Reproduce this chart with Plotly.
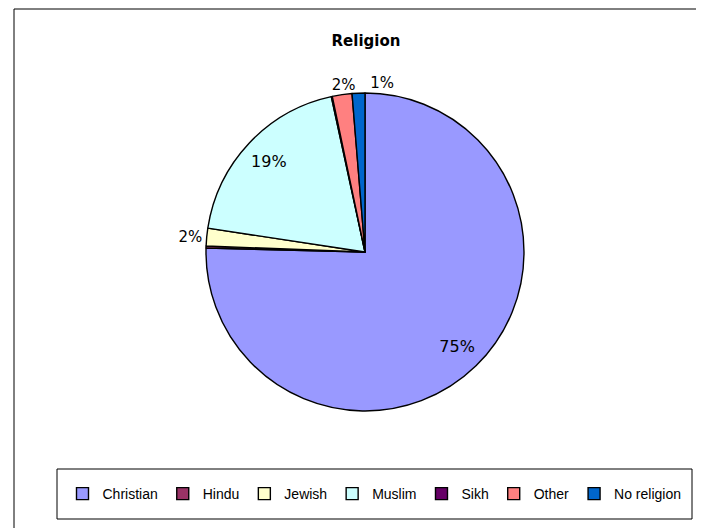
import plotly.graph_objects as go

categories = ["Christian", "Hindu", "Jewish", "Muslim", "Sikh", "Other", "No religion"]
values = [75.4, 0.2, 1.8, 19.2, 0.1, 2.0, 1.3]
inside_labels = ["75%", "", "", "19%", "", "", ""]
outside_labels = ["", "", "2%", "", "", "", ""]
other_label = ["", "", "", "", "", "2%", ""]
norel_label = ["", "", "", "", "", "", "1%"]
colors = ["#9999FF", "#993366", "#FFFFCC", "#CCFFFF", "#660066", "#FF8080", "#0066CC"]

W, H = 704, 528
OFF = 8  # page body margin offset
cx, cy, r = 365 - OFF, 252 - OFF, 159
FONT = "DejaVu Sans, Verdana, sans-serif"
LFONT = "Liberation Sans, Arial, sans-serif"


def dom(dx=0, dy=0):
    return dict(x=[(cx - r + dx) / W, (cx + r + dx) / W],
                y=[1 - (cy + r + dy) / H, 1 - (cy - r + dy) / H])


def px(x):
    return (x - OFF) / W


def py(y):
    return 1 - (y - OFF) / H


# Main pie: filled slices, legend, outside label for Jewish
fig = go.Figure(go.Pie(
    labels=categories,
    values=values,
    text=outside_labels,
    textinfo="text",
    textposition="outside",
    sort=False,
    direction="clockwise",
    rotation=0,
    marker=dict(colors=colors, line=dict(color="black", width=1.4)),
    textfont=dict(family=FONT, size=15, color="black"),
    domain=dom(),
    hoverinfo="label+percent",
    showlegend=True,
))


def label_layer(texts, position, dx=0, dy=0, hole=0.0, size=15):
    fig.add_trace(go.Pie(
        labels=categories,
        values=values,
        text=texts,
        textinfo="text",
        textposition=[position if t else "none" for t in texts],
        insidetextorientation="horizontal",
        hole=hole,
        sort=False,
        direction="clockwise",
        rotation=0,
        marker=dict(colors=["rgba(0,0,0,0)"] * len(categories), line=dict(width=0)),
        textfont=dict(family=FONT, size=size, color="black"),
        domain=dom(dx, dy),
        hoverinfo="skip",
        showlegend=False,
    ))


# Inside labels placed further out (transparent ring), top labels set side by side as in the original
label_layer(inside_labels, "inside", hole=0.66, size=16)
label_layer(other_label, "outside", dx=18, dy=-1)
label_layer(norel_label, "outside", dx=40, dy=-1)

fig.update_layout(
    width=W, height=H,
    margin=dict(l=0, r=0, t=0, b=0),
    paper_bgcolor="white",
    plot_bgcolor="white",
    font=dict(family=FONT, size=13, color="black"),
    title=dict(text="<b>Religion</b>", x=px(366), xanchor="center", y=py(41), yanchor="middle",
               font=dict(size=15, family=FONT, color="black")),
    legend=dict(orientation="h", x=px(374.5), xanchor="center", y=py(494), yanchor="middle",
                font=dict(size=14, family=LFONT), bgcolor="rgba(0,0,0,0)",
                itemwidth=30, traceorder="normal"),
    shapes=[
        dict(type="rect", xref="paper", yref="paper", x0=px(14), x1=1.1, y0=-0.1, y1=py(9),
             line=dict(color="black", width=1), fillcolor="rgba(0,0,0,0)", layer="below"),
        dict(type="rect", xref="paper", yref="paper", x0=px(57), x1=px(692), y0=py(519), y1=py(469),
             line=dict(color="black", width=1), fillcolor="rgba(0,0,0,0)", layer="below"),
    ],
)

fig.write_html("out.html")
